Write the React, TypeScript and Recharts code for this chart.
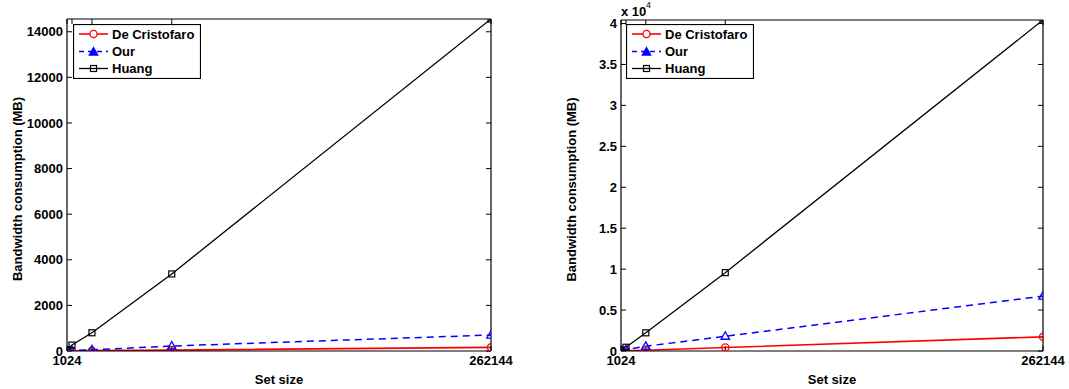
import React from 'react';
import { LineChart, Line, XAxis, YAxis, Legend, Label } from 'recharts';

const setSizes = [1024, 4096, 16384, 65536, 262144];
const xTicks = [1024, 4096, 16384, 65536, 262144];
const xTickLabels = ['1024', '', '', '', '262144'];

const seriesNames = ['De Cristofaro', 'Our', 'Huang'];
const seriesColors = ['#ff0000', '#0000ff', '#000000'];

const leftDeCristofaro = [3, 8, 15, 40, 160];
const leftOur = [10, 20, 50, 220, 700];
const leftHuang = [60, 260, 800, 3380, 14560];
const leftYTicks = [0, 2000, 4000, 6000, 8000, 10000, 12000, 14000];
const leftYMax = 14560;

const rightDeCristofaro = [10, 30, 100, 430, 1730];
const rightOur = [40, 150, 585, 1800, 6700];
const rightHuang = [150, 460, 2220, 9570, 40430];
const rightYTicks = [0, 5000, 10000, 15000, 20000, 25000, 30000, 35000, 40000];
const rightYMax = 40430;
const rightYScale = 10000;

const buildRows = (dc: number[], our: number[], huang: number[]) =>
  setSizes.map((s, i) => ({ size: s, dc: dc[i], our: our[i], huang: huang[i] }));

const leftRows = buildRows(leftDeCristofaro, leftOur, leftHuang);
const rightRows = buildRows(rightDeCristofaro, rightOur, rightHuang);

const FONT = "'Liberation Sans', Arial, Helvetica, sans-serif";
const tickStyle = { fill: '#000', fontSize: 13, fontWeight: 'bold' as const };

const CircleMark = ({ cx, cy, fill = 'none' }: any) => (
  <circle cx={cx} cy={cy} r={3.6} fill={fill} stroke={seriesColors[0]} strokeWidth={1.3} />
);
const TriMark = ({ cx, cy, fill = 'none' }: any) => (
  <path
    d={`M${cx},${cy - 4.5} L${cx + 4.2},${cy + 3} L${cx - 4.2},${cy + 3} Z`}
    fill={fill}
    stroke={seriesColors[1]}
    strokeWidth={1.3}
  />
);
const SqMark = ({ cx, cy }: any) => (
  <rect x={cx - 3} y={cy - 3} width={6} height={6} fill="none" stroke={seriesColors[2]} strokeWidth={1.2} />
);

const LegendBox = () => {
  const rows = [10, 27.5, 44.5];
  return (
    <svg width={128} height={55} style={{ display: 'block' }}>
      <rect x={0.5} y={0.5} width={127} height={54} fill="#fff" stroke="#000" strokeWidth={1.2} />
      {seriesNames.map((name, i) => (
        <g key={name}>
          <line
            x1={6}
            x2={35}
            y1={rows[i]}
            y2={rows[i]}
            stroke={seriesColors[i]}
            strokeWidth={i === 2 ? 1.3 : 1.6}
            strokeDasharray={i === 1 ? '5 4' : undefined}
          />
          {i === 0 && <CircleMark cx={20.5} cy={rows[i]} fill="#fff" />}
          {i === 1 && <TriMark cx={20.5} cy={rows[i] + 0.5} fill={seriesColors[1]} />}
          {i === 2 && <SqMark cx={20.5} cy={rows[i]} />}
          <text
            x={39}
            y={rows[i]}
            dominantBaseline="central"
            fontSize={13}
            fontWeight="bold"
            fill="#000"
            fontFamily={FONT}
          >
            {name}
          </text>
        </g>
      ))}
    </svg>
  );
};

type PanelProps = {
  rows: any[];
  width: number;
  marginLeft: number;
  marginRight: number;
  marginTop: number;
  yMax: number;
  yTicks: number[];
  yFmt: (v: number) => string;
  legendLeft: number;
};

const Panel = ({ rows, width, marginLeft, marginRight, marginTop, yMax, yTicks, yFmt, legendLeft }: PanelProps) => (
  <LineChart
    width={width}
    height={389}
    data={rows}
    margin={{ top: marginTop, right: marginRight, bottom: 0, left: marginLeft }}
    style={{ fontFamily: FONT }}
  >
    <XAxis
      dataKey="size"
      type="number"
      domain={[1024, 262144]}
      ticks={xTicks}
      interval={0}
      allowDataOverflow
      tickFormatter={(v: number) => xTickLabels[xTicks.indexOf(v)] ?? ''}
      tickSize={-5}
      tickMargin={10}
      tick={tickStyle}
      axisLine={{ stroke: '#000', strokeWidth: 1.2 }}
      tickLine={{ stroke: '#000' }}
      height={38}
    >
      <Label
        value="Set size"
        position="insideBottom"
        offset={5}
        style={{ fontSize: 13, fontWeight: 'bold', fill: '#000' }}
      />
    </XAxis>
    <XAxis
      xAxisId="top"
      dataKey="size"
      orientation="top"
      type="number"
      domain={[1024, 262144]}
      ticks={xTicks}
      interval={0}
      allowDataOverflow
      tickFormatter={() => ''}
      tickSize={-5}
      axisLine={{ stroke: '#000', strokeWidth: 1.2 }}
      tickLine={{ stroke: '#000' }}
      height={1}
    />
    <YAxis
      type="number"
      domain={[0, yMax]}
      ticks={yTicks}
      interval={0}
      allowDataOverflow
      tickFormatter={yFmt}
      tickSize={-5}
      tickMargin={9}
      tick={tickStyle}
      axisLine={{ stroke: '#000', strokeWidth: 1.2 }}
      tickLine={{ stroke: '#000' }}
      width={50}
    >
      <Label
        value="Bandwidth consumption (MB)"
        angle={-90}
        position="insideLeft"
        offset={0}
        dy={4}
        style={{ textAnchor: 'middle', fontSize: 13, fontWeight: 'bold', fill: '#000' }}
      />
    </YAxis>
    <YAxis
      yAxisId="right"
      orientation="right"
      type="number"
      domain={[0, yMax]}
      ticks={yTicks}
      interval={0}
      allowDataOverflow
      tickFormatter={() => ''}
      tickSize={-5}
      axisLine={{ stroke: '#000', strokeWidth: 1.2 }}
      tickLine={{ stroke: '#000' }}
      width={1}
    />
    <Legend
      layout="vertical"
      align="center"
      verticalAlign="middle"
      wrapperStyle={{ left: legendLeft, top: 24, width: 128, height: 55 }}
      content={() => <LegendBox />}
    />
    <Line
      type="linear"
      dataKey="dc"
      name={seriesNames[0]}
      stroke={seriesColors[0]}
      strokeWidth={1.6}
      isAnimationActive={false}
      dot={(p: any) => <CircleMark key={`c${p.index}`} cx={p.cx} cy={p.cy} />}
    />
    <Line
      type="linear"
      dataKey="our"
      name={seriesNames[1]}
      stroke={seriesColors[1]}
      strokeWidth={1.5}
      strokeDasharray="7 5"
      isAnimationActive={false}
      dot={(p: any) => <TriMark key={`t${p.index}`} cx={p.cx} cy={p.cy} />}
    />
    <Line
      type="linear"
      dataKey="huang"
      name={seriesNames[2]}
      stroke={seriesColors[2]}
      strokeWidth={1.3}
      isAnimationActive={false}
      dot={(p: any) => <SqMark key={`s${p.index}`} cx={p.cx} cy={p.cy} />}
    />
  </LineChart>
);

export default function App() {
  return (
    <div
      style={{
        position: 'absolute',
        left: 0,
        top: 0,
        width: 1069,
        height: 389,
        background: '#fff',
        fontFamily: FONT,
        overflow: 'hidden',
      }}
    >
      <div style={{ position: 'absolute', left: 0, top: 0 }}>
        <Panel
          rows={leftRows}
          width={540}
          marginLeft={17}
          marginRight={48}
          marginTop={18}
          yMax={leftYMax}
          yTicks={leftYTicks}
          yFmt={(v: number) => String(v)}
          legendLeft={73}
        />
      </div>
      <div style={{ position: 'absolute', left: 540, top: 0 }}>
        <Panel
          rows={rightRows}
          width={529}
          marginLeft={31}
          marginRight={25}
          marginTop={19}
          yMax={rightYMax}
          yTicks={rightYTicks}
          yFmt={(v: number) => String(v / rightYScale)}
          legendLeft={86}
        />
      </div>
      <svg style={{ position: 'absolute', left: 618, top: 0 }} width={50} height={20}>
        <text x={3} y={16} fontSize={13} fontWeight="bold" fill="#000" fontFamily={FONT}>
          x 10
        </text>
        <text x={28} y={8} fontSize={9} fill="#000" fontFamily={FONT}>
          4
        </text>
      </svg>
    </div>
  );
}
